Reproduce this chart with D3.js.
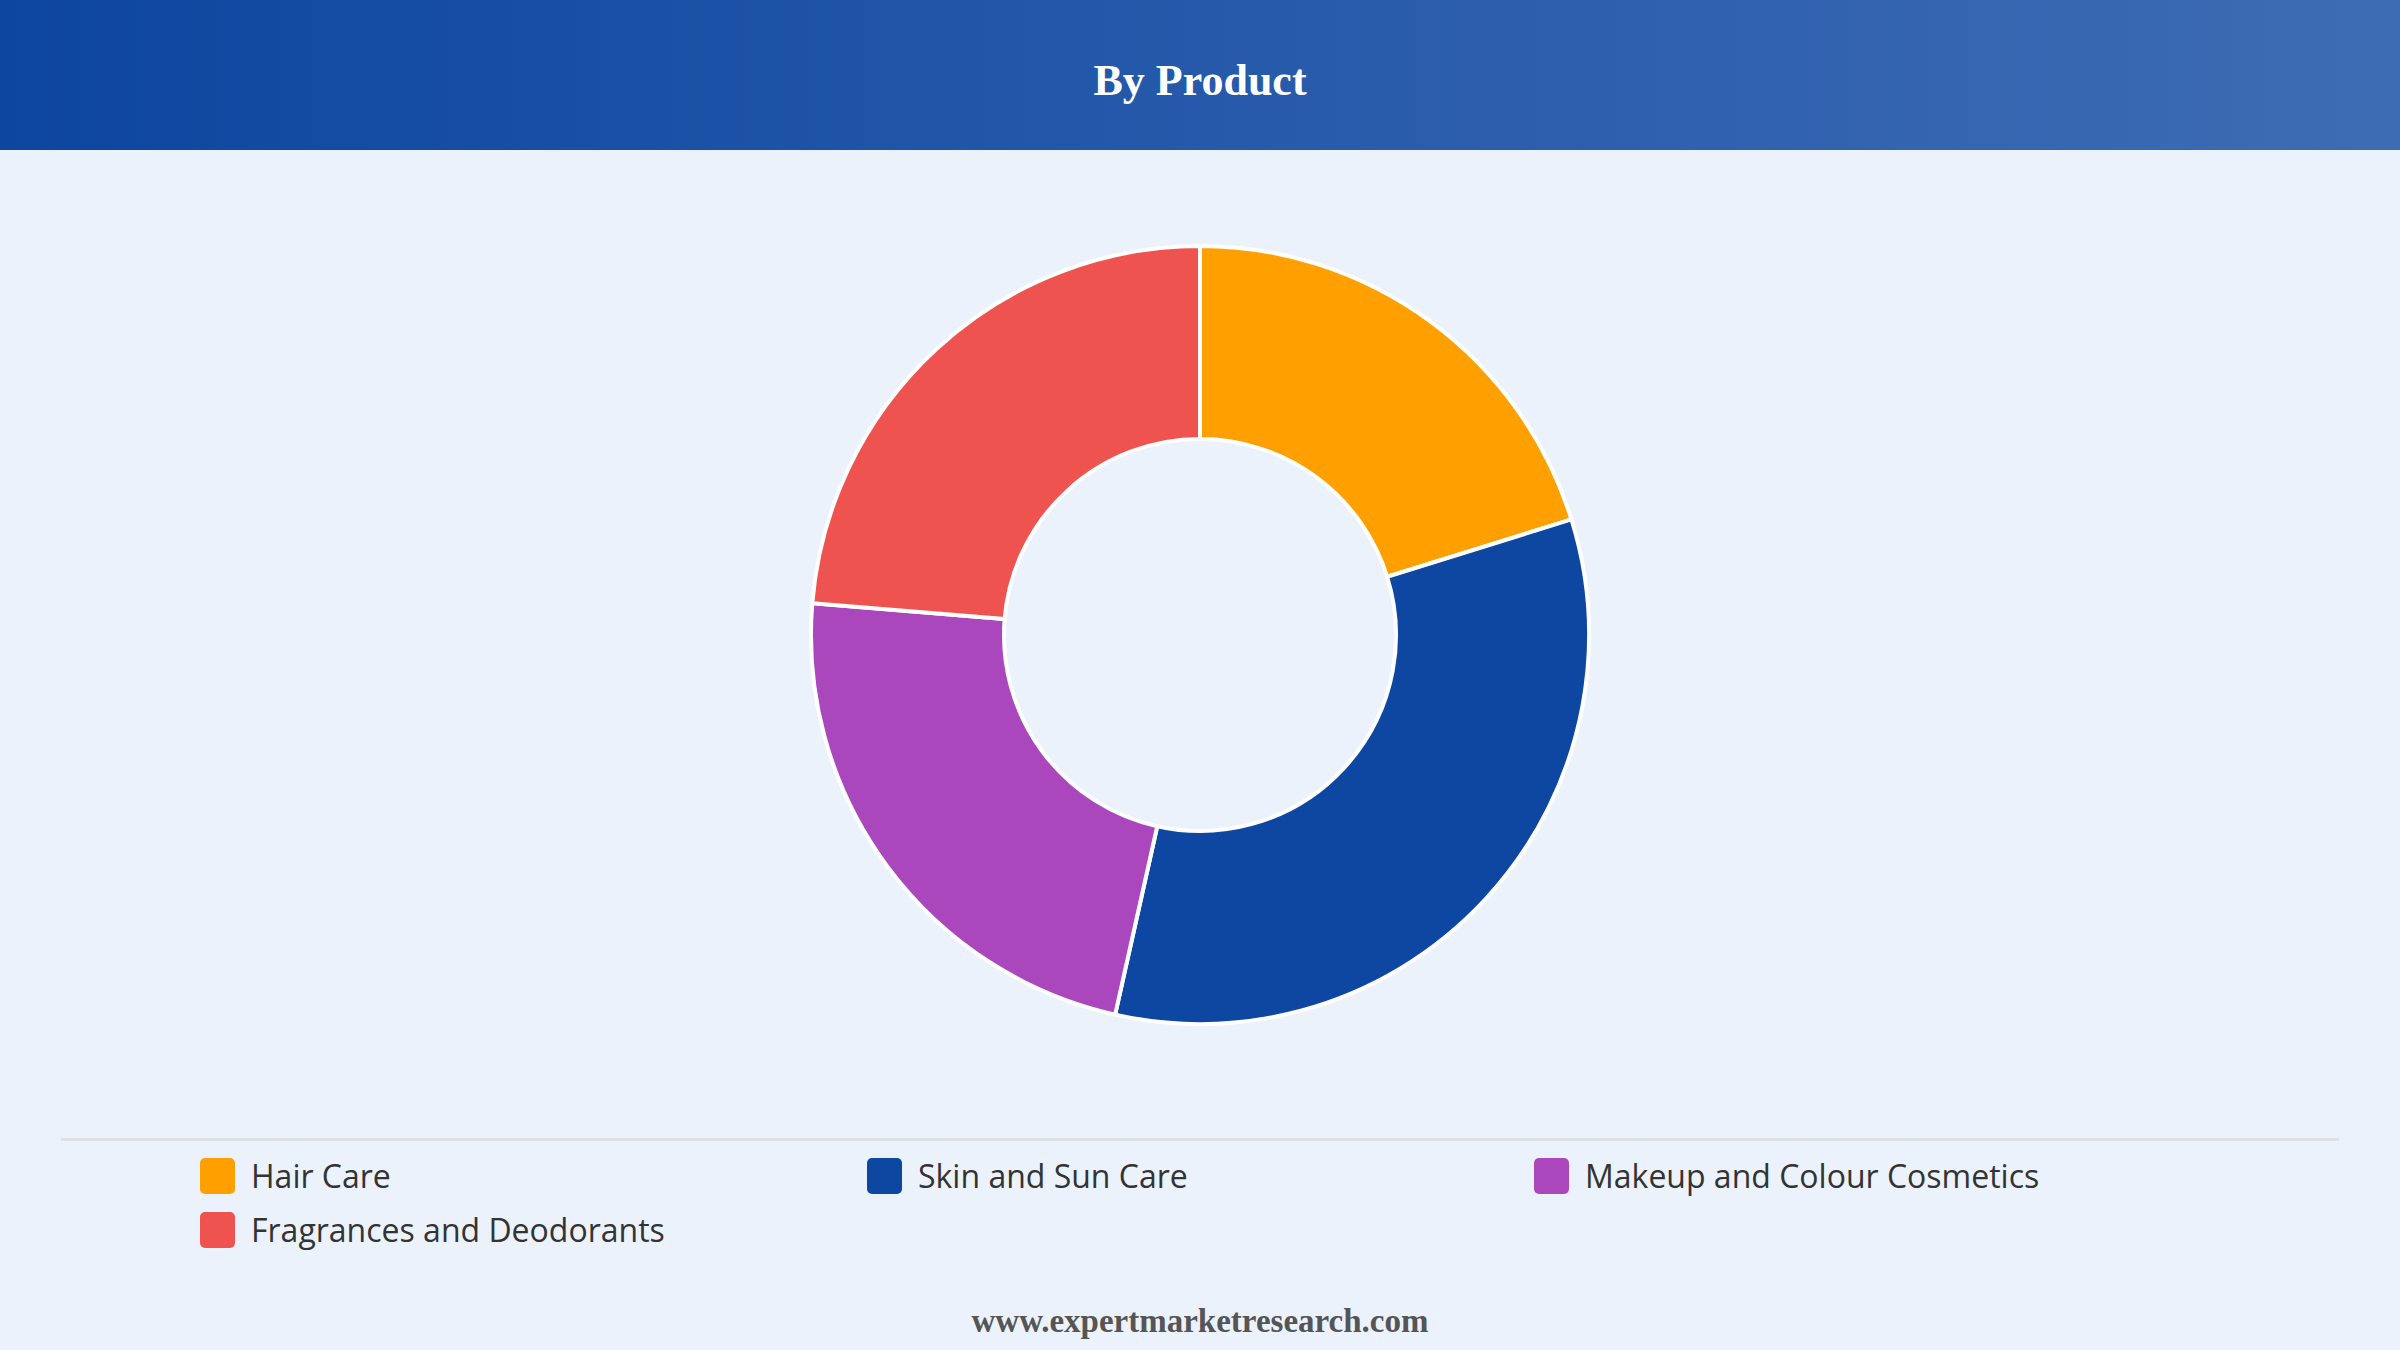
<html>
  <head>
    <meta charset="utf-8">
    <title>By Product</title>
    <style>
      body { margin: 0; background: #ebf2fc; }
    </style>
  </head>
  <body>
    <script src="https://cdn.jsdelivr.net/npm/d3@7"></script>
    <script>

var categories = ["Hair Care", "Skin and Sun Care", "Makeup and Colour Cosmetics", "Fragrances and Deodorants"];
var values = [20.2, 33.3, 22.8, 23.7];
var colors = ["#ffa000", "#0d47a1", "#ab47bc", "#ef5350"];

var width = 2400, height = 1350;

var svg = d3.select("body")
  .append("svg")
    .attr("width", width)
    .attr("height", height);

// header band
var grad = svg.append("defs").append("linearGradient")
    .attr("id", "hdr")
    .attr("x1", "0%").attr("x2", "100%");
grad.append("stop").attr("offset", "0%").attr("stop-color", "#0d46a0");
grad.append("stop").attr("offset", "100%").attr("stop-color", "#3e6cb4");

svg.append("rect")
    .attr("width", width)
    .attr("height", 150)
    .attr("fill", "url(#hdr)");

svg.append("text")
    .attr("x", width / 2)
    .attr("y", 95)
    .attr("text-anchor", "middle")
    .attr("fill", "#fff")
    .style("font-family", "'Liberation Serif', 'Times New Roman', serif")
    .style("font-weight", "bold")
    .style("font-size", "44px")
    .text("By Product");

// donut
var data = categories.map(function (c, i) {
  return {name: c, value: values[i], color: colors[i]};
});

var pie = d3.pie()
    .sort(null)
    .value(function (d) { return d.value; });

var arc = d3.arc()
    .innerRadius(196)
    .outerRadius(389);

var g = svg.append("g")
    .attr("transform", "translate(1200,635)");

g.selectAll("path")
  .data(pie(data))
  .enter().append("path")
    .attr("d", arc)
    .attr("fill", function (d) { return d.data.color; })
    .attr("stroke", "#fff")
    .attr("stroke-width", 4);

// separator
svg.append("line")
    .attr("x1", 61).attr("x2", 2339)
    .attr("y1", 1139.5).attr("y2", 1139.5)
    .attr("stroke", "#dde1e6")
    .attr("stroke-width", 3);

// legend
var col = d3.scalePoint()
    .domain([0, 1, 2])
    .range([200, 1534]);

var item = svg.selectAll(".legend")
  .data(data)
  .enter().append("g")
    .attr("class", "legend")
    .attr("transform", function (d, i) {
      return "translate(" + col(i % 3) + "," + (1158 + Math.floor(i / 3) * 54) + ")";
    });

item.append("rect")
    .attr("width", 35)
    .attr("height", 36)
    .attr("rx", 5)
    .attr("fill", function (d) { return d.color; });

item.append("text")
    .attr("x", 51)
    .attr("y", 30)
    .attr("fill", "#333")
    .style("font-family", "'Open Sans', 'Noto Sans', sans-serif")
    .style("font-size", "32px")
    .text(function (d) { return d.name; });

// footer
svg.append("text")
    .attr("x", width / 2)
    .attr("y", 1332)
    .attr("text-anchor", "middle")
    .attr("fill", "#555")
    .style("font-family", "'Liberation Serif', 'Times New Roman', serif")
    .style("font-weight", "bold")
    .style("font-size", "33px")
    .text("www.expertmarketresearch.com");

    </script>
  </body>
</html>
